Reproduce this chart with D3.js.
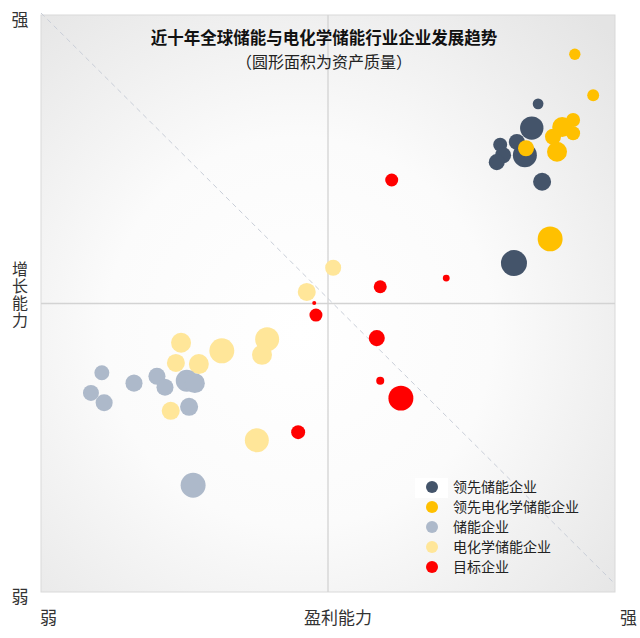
<!DOCTYPE html>
<html>
<head>
<meta charset="utf-8">
<script src="https://cdn.jsdelivr.net/npm/d3@7"></script>
<style>
  html, body { margin: 0; padding: 0; background: #ffffff; }
  svg { display: block; font-family: "Noto Sans CJK SC", "Noto Sans", sans-serif; }
</style>
</head>
<body>
<svg id="chart" width="640" height="638"></svg>
<script>
// ---- data: [profitability, growth, asset quality] ----
const seriesNames = ["领先储能企业", "领先电化学储能企业", "储能企业", "电化学储能企业", "目标企业"];
const seriesColors = ["#44546A", "#FFC000", "#ADB9CA", "#FFE699", "#FF0000"];

const leadStorage = [
  [86.6, 84.6, 17], [85.5, 80.4, 81], [82.9, 78.0, 38], [80.0, 77.5, 29],
  [80.5, 75.7, 38], [79.4, 74.5, 38], [84.3, 75.7, 85], [87.3, 71.1, 48],
  [82.4, 57.0, 100]
];
const leadElectro = [
  [93.0, 93.2, 19], [96.2, 86.1, 21], [92.7, 81.8, 29], [90.8, 80.6, 59],
  [89.2, 78.9, 38], [92.7, 79.5, 29], [89.9, 76.3, 59], [84.5, 76.9, 38],
  [88.7, 61.2, 92]
];
const storage = [
  [10.6, 38.0, 33], [8.7, 34.5, 38], [11.0, 32.8, 43], [16.2, 36.2, 43],
  [20.2, 37.4, 43], [21.6, 35.5, 43], [25.4, 36.6, 72], [26.8, 36.2, 59],
  [25.8, 32.1, 48], [26.5, 18.5, 92]
];
const electro = [
  [24.4, 43.2, 59], [23.5, 39.7, 48], [27.5, 39.5, 59], [31.5, 41.8, 92],
  [39.4, 43.8, 85], [38.5, 41.1, 59], [22.6, 31.4, 48], [37.6, 26.3, 85],
  [50.9, 56.2, 38], [46.3, 52.0, 48]
];
const target = [
  [61.1, 71.4, 25], [59.1, 52.9, 25], [70.6, 54.4, 7], [47.6, 50.1, 2.4],
  [47.9, 48.0, 25], [58.5, 44.0, 38], [59.1, 36.6, 9.5], [62.7, 33.6, 92],
  [44.8, 27.7, 29]
];
const seriesData = [leadStorage, leadElectro, storage, electro, target];
const drawOrder = [3, 2, 0, 1, 4];

const titleText = "近十年全球储能与电化学储能行业企业发展趋势";
const subtitleText = "（圆形面积为资产质量）";
const xAxisTitle = "盈利能力";
const yAxisTitle = "增长能力";
const strongLabel = "强";
const weakLabel = "弱";

// ---- layout ----
const svg = d3.select("#chart");
const plot = { left: 41, right: 615, top: 15, bottom: 592 };

const x = d3.scaleLinear().domain([0, 100]).range([plot.left, plot.right]);
const y = d3.scaleLinear().domain([0, 100]).range([plot.bottom, plot.top]);
const r = d3.scaleSqrt().domain([0, 100]).range([0, 13]);

// background gradient
const defs = svg.append("defs");
const grad = defs.append("radialGradient").attr("id", "bg")
  .attr("cx", "45%").attr("cy", "55%").attr("r", "75%");
grad.append("stop").attr("offset", "0%").attr("stop-color", "#ffffff");
grad.append("stop").attr("offset", "45%").attr("stop-color", "#fbfbfb");
grad.append("stop").attr("offset", "100%").attr("stop-color", "#e4e4e4");

svg.append("rect")
  .attr("x", x(0)).attr("y", y(100))
  .attr("width", x(100) - x(0)).attr("height", y(0) - y(100))
  .attr("fill", "url(#bg)")
  .attr("stroke", "#d9d9d9").attr("stroke-width", 1);

// quadrant lines
svg.append("line")
  .attr("x1", x(50)).attr("x2", x(50)).attr("y1", y(100)).attr("y2", y(0))
  .attr("stroke", "#d3d3d3").attr("stroke-width", 1.3);
svg.append("line")
  .attr("x1", x(0)).attr("x2", x(100)).attr("y1", y(50)).attr("y2", y(50))
  .attr("stroke", "#d3d3d3").attr("stroke-width", 1.3);

// diagonal dashed line
svg.append("line")
  .attr("x1", x(0)).attr("y1", y(100) - 2).attr("x2", x(100)).attr("y2", y(0) - 8)
  .attr("stroke", "#c9ced8").attr("stroke-width", 1).attr("stroke-dasharray", "5,4");

// title
svg.append("text").attr("x", 324).attr("y", 44).attr("text-anchor", "middle")
  .attr("font-size", 16.5).attr("font-weight", "bold").attr("fill", "#111")
  .text(titleText);
svg.append("text").attr("x", 324).attr("y", 68).attr("text-anchor", "middle")
  .attr("font-size", 16).attr("fill", "#222")
  .text(subtitleText);

// bubbles
drawOrder.forEach(si => {
  svg.append("g").selectAll("circle")
    .data(seriesData[si])
    .join("circle")
    .attr("cx", d => x(d[0]))
    .attr("cy", d => y(d[1]))
    .attr("r", d => r(d[2]))
    .attr("fill", seriesColors[si]);
});

// legend
const legend = svg.append("g").attr("transform", "translate(432,487)");
legend.append("rect").attr("x", -17).attr("y", -9).attr("width", 33).attr("height", 20).attr("fill", "#ffffff");
seriesNames.forEach((name, i) => {
  const g = legend.append("g").attr("transform", `translate(0,${i * 20})`);
  g.append("circle").attr("r", 6).attr("fill", seriesColors[i]);
  g.append("text").attr("x", 21).attr("y", 5).attr("font-size", 14).attr("fill", "#222").text(name);
});

// axis end labels
const labColor = "#333";
svg.append("text").attr("x", 20).attr("y", 26).attr("text-anchor", "middle")
  .attr("font-size", 17).attr("fill", labColor).text(strongLabel);
svg.append("text").attr("x", 20).attr("y", 603).attr("text-anchor", "middle")
  .attr("font-size", 17).attr("fill", labColor).text(weakLabel);
svg.append("text").attr("x", 20).attr("y", 261)
  .style("writing-mode", "vertical-rl").style("text-orientation", "upright")
  .attr("letter-spacing", 1)
  .attr("font-size", 16).attr("fill", labColor).text(yAxisTitle);
svg.append("text").attr("x", x(0) - 1).attr("y", 624).attr("text-anchor", "start")
  .attr("font-size", 17).attr("fill", labColor).text(weakLabel);
svg.append("text").attr("x", 338).attr("y", 624).attr("text-anchor", "middle")
  .attr("font-size", 17).attr("fill", labColor).text(xAxisTitle);
svg.append("text").attr("x", 620).attr("y", 624).attr("text-anchor", "start")
  .attr("font-size", 17).attr("fill", labColor).text(strongLabel);
</script>
</body>
</html>
